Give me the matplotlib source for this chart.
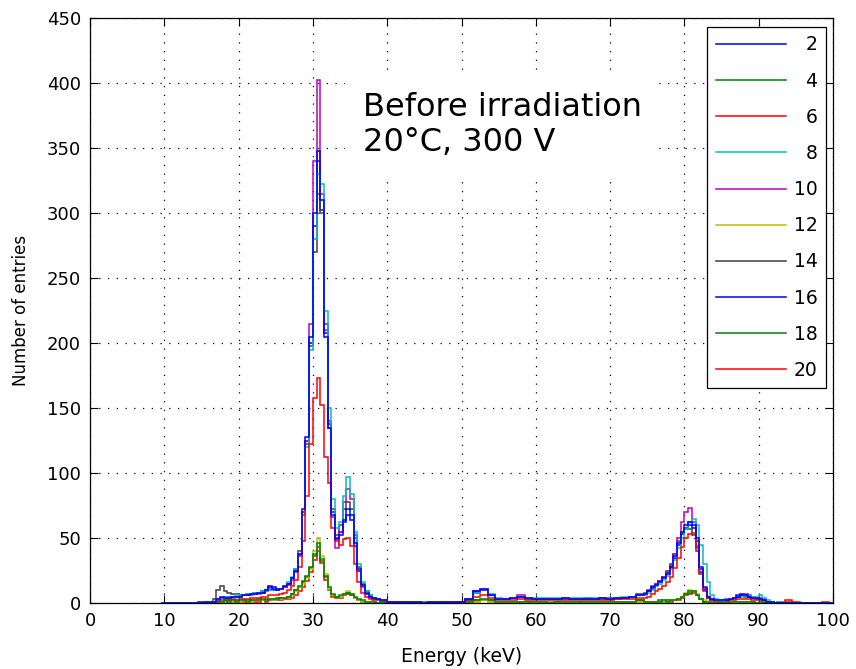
import numpy as np
import matplotlib
matplotlib.use("Agg")
import matplotlib.pyplot as plt

# ---------------- data ----------------
# histogram bin edges (keV): 1 keV bins in flat parts, 0.5 keV near peaks
edges = np.concatenate([
    np.arange(9.5, 16.5, 1.0),
    np.arange(16.5, 40.5, 0.5),
    np.arange(40.5, 74.5, 1.0),
    np.arange(74.5, 92.5, 0.5),
    np.arange(92.5, 100.6, 1.0),
])

labels = ["2", "4", "6", "8", "10", "12", "14", "16", "18", "20"]
colors = [(0, 0, 1), (0, 0.5, 0), (1, 0, 0), (0, 0.75, 0.75), (0.75, 0, 0.75),
          (0.75, 0.75, 0), (0.25, 0.25, 0.25), (0, 0, 1), (0, 0.5, 0), (1, 0, 0)]

# segment A: 9.5-16.5 keV (1 keV bins)
segA = {
    "2":  [0, 0, 0, 0, 0, 0, 1],
    "4":  [0, 0, 0, 0, 0, 0, 0],
    "6":  [0, 0, 0, 0, 0, 0, 0],
    "8":  [0, 0, 0, 0, 0, 0, 1],
    "10": [0, 0, 0, 0, 0, 0, 0],
    "12": [0, 0, 0, 0, 0, 0, 0],
    "14": [0, 0, 0, 0, 0, 0, 1],
    "16": [0, 0, 0, 0, 0, 1, 0],
    "18": [0, 0, 0, 0, 0, 0, 0],
    "20": [0, 0, 0, 0, 0, 0, 0],
}

# segment B: 16.5-40.5 keV (0.5 keV bins)
segB = {
    "2":  [1, 3, 5, 4, 4, 5, 5, 5, 6, 6, 7, 7, 8, 8, 10, 12, 11, 10, 11, 13, 15, 19, 25, 38,
           72, 128, 205, 300, 348, 310, 205, 135, 68, 49, 52, 64, 72, 68, 46, 26, 14, 8, 5, 4, 3, 2, 2, 1],
    "4":  [0, 1, 1, 2, 1, 2, 1, 2, 2, 1, 2, 2, 2, 3, 2, 3, 3, 3, 4, 4, 5, 7, 10, 13,
           17, 21, 28, 38, 46, 34, 21, 12, 7, 5, 6, 7, 8, 7, 5, 3, 2, 1, 1, 1, 0, 1, 0, 0],
    "6":  [0, 1, 2, 2, 2, 3, 2, 3, 3, 3, 4, 4, 4, 5, 5, 6, 6, 6, 7, 8, 10, 13, 18, 28,
           48, 82, 122, 158, 173, 152, 112, 92, 58, 48, 45, 49, 50, 44, 30, 16, 8, 5, 3, 2, 2, 1, 1, 1],
    "8":  [1, 3, 4, 5, 5, 5, 6, 6, 6, 7, 7, 8, 8, 9, 9, 10, 10, 10, 11, 13, 16, 20, 26, 38,
           68, 120, 195, 280, 330, 322, 225, 150, 80, 58, 62, 82, 97, 84, 55, 30, 16, 9, 6, 4, 3, 2, 2, 1],
    "10": [1, 2, 4, 4, 4, 5, 5, 5, 6, 6, 6, 7, 7, 8, 9, 11, 10, 10, 11, 12, 14, 18, 24, 36,
           70, 125, 215, 340, 402, 315, 210, 135, 66, 42, 55, 78, 88, 80, 52, 25, 12, 7, 5, 3, 3, 2, 1, 1],
    "12": [0, 0, 1, 1, 1, 1, 1, 1, 2, 1, 1, 2, 2, 2, 2, 3, 2, 3, 3, 4, 4, 6, 9, 12,
           15, 19, 26, 40, 50, 36, 22, 11, 6, 5, 5, 7, 9, 7, 4, 2, 1, 1, 1, 0, 0, 0, 0, 0],
    "14": [3, 10, 13, 9, 8, 7, 7, 6, 6, 7, 7, 8, 8, 8, 9, 10, 10, 10, 11, 12, 15, 19, 26, 40,
           70, 122, 198, 270, 315, 300, 215, 140, 72, 52, 60, 72, 78, 72, 50, 28, 15, 9, 6, 4, 3, 2, 2, 1],
    "16": [1, 2, 4, 5, 5, 5, 5, 6, 6, 6, 7, 7, 8, 9, 10, 13, 12, 11, 11, 12, 15, 19, 25, 37,
           68, 125, 200, 290, 340, 302, 208, 138, 70, 50, 55, 62, 68, 64, 44, 25, 13, 7, 5, 3, 3, 2, 1, 1],
    "18": [0, 1, 1, 1, 2, 1, 2, 1, 2, 2, 2, 2, 3, 2, 3, 3, 3, 4, 4, 4, 5, 7, 10, 12,
           16, 20, 27, 36, 43, 32, 20, 11, 6, 5, 5, 7, 8, 6, 4, 2, 1, 1, 0, 1, 0, 0, 0, 0],
    "20": [0, 0, 0, 1, 0, 1, 1, 0, 1, 1, 1, 1, 1, 2, 1, 2, 2, 2, 2, 3, 3, 4, 6, 9,
           12, 17, 24, 33, 40, 31, 18, 10, 5, 4, 4, 6, 7, 6, 4, 2, 1, 0, 1, 0, 0, 0, 0, 0],
}

# segment C: 40.5-74.5 keV (1 keV bins)
segC = {
    "2":  [1, 1, 1, 1, 0, 1, 1, 1, 1, 1, 3, 9, 11, 6, 3, 3, 4, 5, 4, 3, 3, 3, 3, 4, 3, 3, 3, 3, 4, 3, 4, 4, 5, 6],
    "4":  [0, 0, 0, 0, 0, 0, 0, 0, 0, 0, 1, 2, 3, 2, 1, 1, 1, 1, 1, 1, 1, 0, 1, 1, 1, 1, 1, 1, 1, 1, 1, 1, 1, 2],
    "6":  [1, 1, 0, 1, 0, 1, 0, 1, 1, 1, 2, 5, 6, 4, 2, 2, 2, 3, 2, 2, 2, 2, 2, 2, 2, 2, 2, 2, 2, 2, 3, 3, 3, 4],
    "8":  [1, 1, 1, 1, 1, 1, 1, 1, 1, 1, 3, 8, 11, 7, 4, 3, 4, 5, 4, 4, 4, 4, 4, 4, 4, 4, 4, 4, 4, 4, 4, 5, 5, 6],
    "10": [1, 1, 1, 0, 1, 1, 1, 1, 1, 1, 2, 8, 10, 6, 3, 3, 4, 6, 4, 3, 3, 3, 3, 3, 3, 3, 4, 3, 3, 3, 4, 4, 5, 6],
    "12": [0, 0, 0, 0, 0, 0, 0, 0, 0, 0, 0, 1, 2, 1, 1, 1, 1, 1, 0, 1, 1, 1, 0, 1, 1, 0, 1, 1, 1, 1, 1, 1, 1, 1],
    "14": [1, 1, 1, 1, 1, 1, 1, 1, 1, 1, 2, 8, 10, 6, 3, 3, 4, 5, 3, 3, 3, 3, 3, 3, 3, 3, 3, 3, 3, 3, 3, 4, 5, 7],
    "16": [1, 1, 1, 1, 1, 1, 0, 1, 1, 1, 3, 9, 10, 6, 3, 3, 4, 5, 3, 3, 3, 3, 3, 3, 3, 3, 3, 3, 4, 4, 4, 4, 5, 6],
    "18": [0, 0, 0, 0, 0, 0, 0, 0, 0, 0, 0, 2, 2, 2, 1, 1, 1, 1, 1, 1, 1, 1, 1, 1, 1, 1, 1, 1, 1, 1, 1, 1, 1, 2],
    "20": [0, 0, 0, 0, 0, 0, 0, 0, 0, 0, 1, 1, 2, 1, 0, 1, 1, 0, 1, 1, 0, 1, 1, 0, 1, 1, 0, 1, 1, 1, 0, 1, 1, 1],
}

# segment D: 74.5-92.5 keV (0.5 keV bins)
segD = {
    "2":  [7, 9, 12, 14, 16, 19, 22, 28, 36, 46, 55, 60, 62, 60, 50, 28, 12, 5, 3, 2, 2, 2, 2, 3, 4, 5, 6, 6, 5, 4, 4, 3, 2, 1, 1, 0],
    "4":  [1, 1, 1, 1, 1, 2, 1, 2, 2, 3, 5, 7, 9, 9, 6, 3, 1, 1, 0, 0, 1, 0, 0, 1, 1, 1, 1, 1, 1, 1, 0, 1, 0, 0, 0, 0],
    "6":  [4, 5, 7, 9, 11, 13, 16, 20, 27, 35, 43, 50, 53, 54, 42, 24, 10, 4, 2, 1, 1, 1, 1, 2, 2, 3, 3, 3, 3, 2, 2, 2, 1, 1, 0, 0],
    "8":  [6, 8, 10, 13, 15, 18, 21, 26, 33, 42, 50, 57, 62, 65, 60, 45, 30, 16, 6, 3, 2, 2, 3, 3, 4, 5, 5, 6, 6, 5, 5, 6, 4, 2, 1, 0],
    "10": [7, 9, 12, 15, 17, 20, 24, 29, 38, 50, 62, 70, 73, 62, 44, 24, 10, 4, 2, 2, 2, 2, 3, 3, 4, 5, 6, 7, 6, 5, 4, 4, 3, 1, 1, 0],
    "12": [0, 1, 1, 1, 1, 1, 1, 2, 2, 3, 5, 8, 10, 9, 7, 3, 2, 1, 0, 0, 0, 0, 0, 1, 0, 1, 1, 0, 1, 0, 0, 0, 0, 0, 0, 0],
    "14": [8, 10, 13, 15, 17, 20, 25, 30, 38, 48, 54, 57, 57, 52, 40, 22, 9, 4, 2, 2, 2, 2, 2, 3, 4, 5, 6, 5, 5, 4, 3, 3, 2, 1, 0, 0],
    "16": [7, 9, 11, 14, 17, 20, 23, 28, 35, 45, 53, 58, 60, 58, 48, 26, 11, 5, 3, 2, 2, 2, 2, 3, 4, 6, 7, 6, 5, 4, 3, 3, 2, 1, 1, 0],
    "18": [1, 1, 1, 1, 2, 1, 2, 2, 2, 3, 5, 7, 8, 9, 6, 3, 1, 1, 1, 0, 0, 0, 1, 0, 1, 1, 1, 1, 0, 1, 0, 0, 0, 0, 0, 0],
    "20": [0, 1, 0, 1, 1, 1, 1, 1, 2, 2, 4, 6, 7, 8, 6, 3, 1, 0, 0, 0, 0, 0, 0, 0, 1, 1, 1, 1, 1, 0, 0, 0, 0, 0, 0, 0],
}

# segment E: 92.5-100.5 keV (1 keV bins)
segE = {
    "2":  [0, 0, 0, 0, 0, 0, 0, 0],
    "4":  [0, 0, 0, 0, 0, 0, 0, 0],
    "6":  [0, 1, 1, 0, 0, 0, 0, 0],
    "8":  [1, 0, 0, 0, 0, 0, 0, 0],
    "10": [0, 0, 0, 0, 0, 0, 0, 0],
    "12": [0, 0, 0, 0, 0, 0, 0, 0],
    "14": [0, 0, 0, 0, 0, 0, 0, 0],
    "16": [0, 0, 0, 0, 0, 0, 0, 0],
    "18": [0, 0, 0, 0, 0, 0, 0, 0],
    "20": [1, 2, 0, 0, 0, 0, 1, 0],
}

xticks = [0, 10, 20, 30, 40, 50, 60, 70, 80, 90, 100]
yticks = [0, 50, 100, 150, 200, 250, 300, 350, 400, 450]

# ---------------- figure ----------------
plt.rcParams['font.family'] = ['DejaVu Sans']
fig = plt.figure(figsize=(8.56, 6.69), dpi=100)
ax = fig.add_axes([90 / 856, 66 / 669, 743 / 856, 585 / 669])

n = len(labels)
handles = []
for i, lab in enumerate(labels):
    vals = np.array(segA[lab] + segB[lab] + segC[lab] + segD[lab] + segE[lab], dtype=float)
    h = ax.stairs(vals, edges, color=colors[i], linewidth=1.1, baseline=None,
                  zorder=3 + (n - i) * 0.1, label=("  " + lab) if len(lab) == 1 else lab)
    handles.append(h)

ax.set_xlim(0, 100)
ax.set_ylim(0, 450)
ax.set_xticks(xticks)
ax.set_yticks(yticks)
ax.tick_params(direction='in', top=True, right=True, length=6, width=0.8,
               labelsize=13, pad=6.5)
for s in ax.spines.values():
    s.set_linewidth(0.9)

ax.grid(True, color='black', linewidth=0.9, linestyle=(0, (1, 6)))
ax.set_axisbelow(True)

ax.set_xlabel("Energy (keV)", fontsize=13.5, labelpad=12)
ax.set_ylabel("Number of entries", fontsize=12, labelpad=12)

ax.text(0.367, 0.873, "Before irradiation\n20°C, 300 V", transform=ax.transAxes,
        fontsize=23, ha='left', va='top', linespacing=1.15, zorder=2.5,
        bbox=dict(boxstyle='square,pad=0.55', facecolor='white', edgecolor='none'))

leg = ax.legend(handles=handles, loc='upper right',
                bbox_to_anchor=(826 / 856, 1 - 27 / 669), bbox_transform=fig.transFigure,
                borderaxespad=0, fontsize=13.5, handlelength=3.75, handletextpad=0.4,
                labelspacing=0.915, borderpad=0.45, fancybox=False, framealpha=1,
                edgecolor='black')
leg.get_frame().set_linewidth(0.9)
leg.set_zorder(10)

fig.savefig("out.png", dpi=100)
